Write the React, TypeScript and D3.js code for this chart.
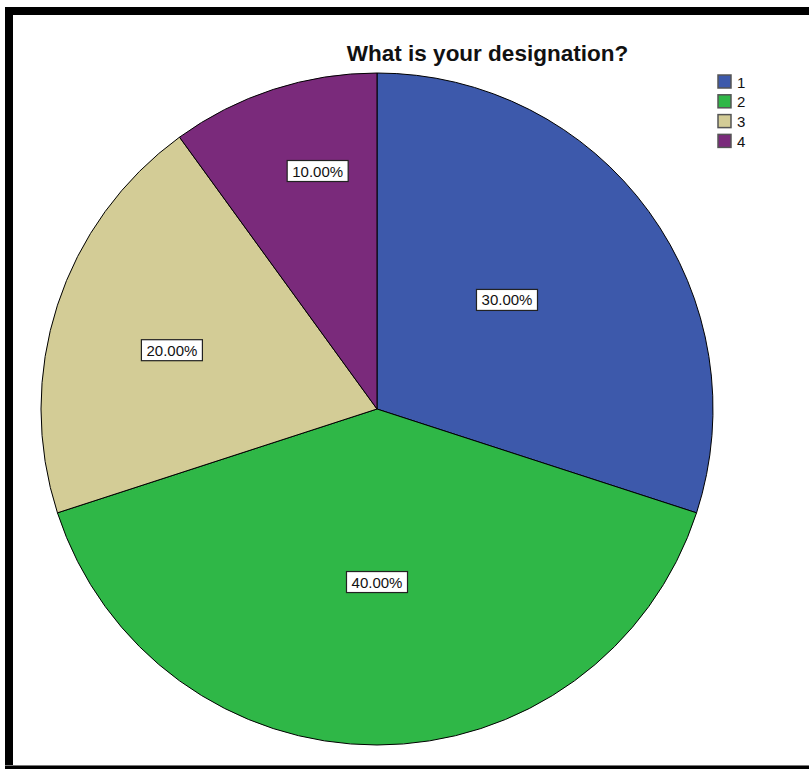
import React from "react";
import * as d3 from "d3";

const title = "What is your designation?";
const categories = ["1", "2", "3", "4"];
const values = [30, 40, 20, 10];
const colors = ["#3d59ab", "#2fb747", "#d3cc96", "#7a2a7b"];

// layout: label placement (SPSS), distance as fraction of radius and angular nudge in degrees
const LABEL_RADIUS_FRAC = [0.505, 0.515, 0.635, 0.73];
const LABEL_ANGLE_NUDGE = [-4, 0, -2, 4];

const W = 809;
const H = 769;
const cx = 377;
const cy = 409;
const R = 336;

export default function App() {
  const pie = d3.pie<number>().sort(null).value((d) => d).startAngle(0).endAngle(2 * Math.PI);
  const arcs = pie(values);
  const arc = d3.arc<d3.PieArcDatum<number>>().innerRadius(0).outerRadius(R);
  const total = d3.sum(values);
  const fmt = d3.format(".2f");

  return (
    <svg
      width={W}
      height={H}
      style={{ position: "absolute", left: 0, top: 0, background: "#fff" }}
      fontFamily="'Liberation Sans', Arial, sans-serif"
    >
      <rect x={0} y={0} width={W} height={H} fill="#fff" />
      {/* frame */}
      <rect x={5} y={7} width={W - 5} height={8} fill="#000" />
      <rect x={5} y={7} width={8} height={H - 7} fill="#000" />
      <rect x={5} y={765} width={W - 5} height={1} fill="#777" />
      <rect x={5} y={766} width={W - 5} height={3} fill="#000" />

      <text x={487.5} y={61} textAnchor="middle" fontSize={22.5} fontWeight="bold" fill="#111">
        {title}
      </text>

      <g transform={`translate(${cx},${cy})`}>
        {arcs.map((a, i) => (
          <path key={i} d={arc(a) || ""} fill={colors[i]} stroke="#000" strokeWidth={1} strokeLinejoin="round" />
        ))}
        {arcs.map((a, i) => {
          const mid = (a.startAngle + a.endAngle) / 2 + (LABEL_ANGLE_NUDGE[i] * Math.PI) / 180;
          const dist = LABEL_RADIUS_FRAC[i] * R;
          const x = dist * Math.sin(mid);
          const y = -dist * Math.cos(mid);
          const label = `${fmt((values[i] / total) * 100)}%`;
          const bw = 61;
          const bh = 21;
          return (
            <g key={"l" + i} transform={`translate(${x},${y})`}>
              <rect x={-bw / 2} y={-bh / 2} width={bw} height={bh} fill="#fff" stroke="#222" strokeWidth={1.2} />
              <text x={0} y={5.5} textAnchor="middle" fontSize={15} fill="#111">
                {label}
              </text>
            </g>
          );
        })}
      </g>

      <g>
        {categories.map((c, i) => (
          <g key={c} transform={`translate(718,${75 + i * 19.8})`}>
            <rect x={0} y={0} width={13} height={13} fill={colors[i]} stroke="#555" strokeWidth={1.5} />
            <text x={19} y={12.5} fontSize={15} fill="#111">
              {c}
            </text>
          </g>
        ))}
      </g>
    </svg>
  );
}
